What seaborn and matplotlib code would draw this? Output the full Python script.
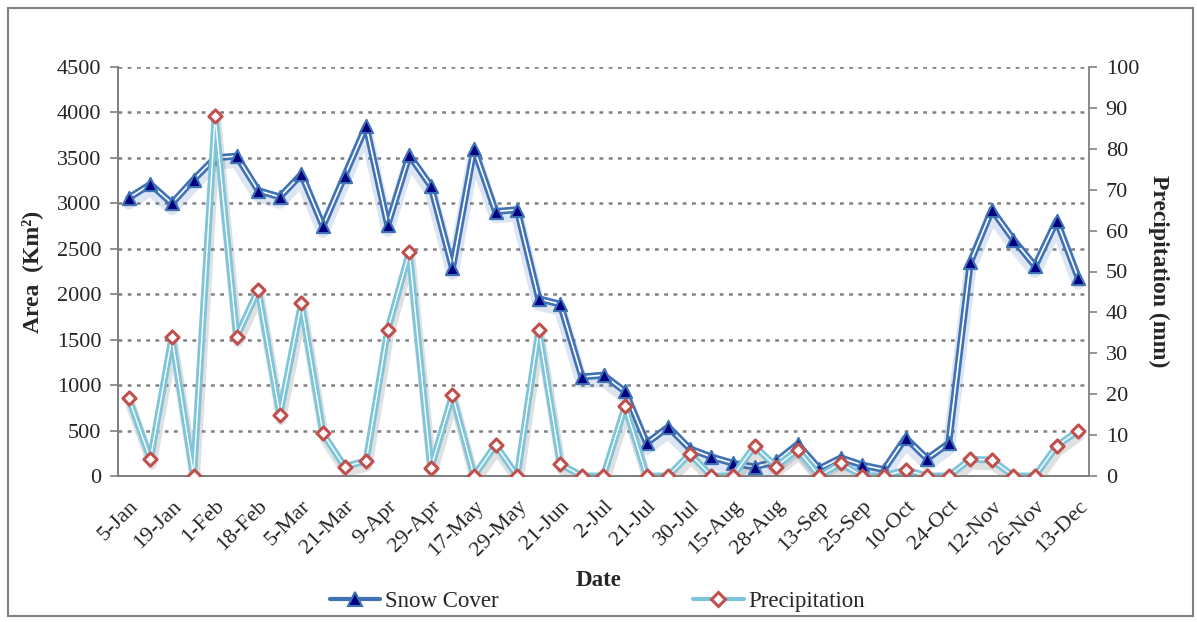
import matplotlib
matplotlib.use('Agg')
import matplotlib.pyplot as plt
import matplotlib.patheffects as pe
from matplotlib.lines import Line2D
from matplotlib.patches import Rectangle
import numpy as np
import pandas as pd
import seaborn as sns

# labels shown on every second date
tick_labels = ['5-Jan', '19-Jan', '1-Feb', '18-Feb', '5-Mar', '21-Mar', '9-Apr', '29-Apr',
               '17-May', '29-May', '21-Jun', '2-Jul', '21-Jul', '30-Jul', '15-Aug', '28-Aug',
               '13-Sep', '25-Sep', '10-Oct', '24-Oct', '12-Nov', '26-Nov', '13-Dec']

snow_cover = [3060, 3210, 3000, 3260, 3500, 3520, 3140, 3070, 3320, 2750, 3300, 3850,
              2760, 3530, 3190, 2290, 3600, 2910, 2930, 1950, 1890, 1090, 1110, 930,
              360, 540, 300, 210, 140, 100, 160, 350, 80, 200, 120, 70, 420, 190, 360,
              2350, 2930, 2600, 2310, 2810, 2180]

precipitation = [19.0, 4.1, 33.9, 0, 88, 34, 45.5, 15, 42.2, 10.4, 2.3, 3.7, 35.7, 54.7,
                 1.9, 19.8, 0, 7.6, 0, 35.7, 2.9, 0, 0, 17, 0, 0, 5.4, 0, 0, 7.3, 2.3,
                 6.4, 0, 3.1, 0, 0, 1.5, 0, 0, 4.1, 3.9, 0, 0, 7.3, 11.1]

SNOW = '#3F72B5'
SNOW_MK = '#000080'
PREC = '#7EC5DA'
PREC_MK = '#C0504D'
GRID = '#808080'

sns.set_style('white')
plt.rcParams['font.family'] = ['Liberation Serif', 'DejaVu Serif']

df = pd.DataFrame({'pos': np.arange(len(snow_cover)),
                   'snow': snow_cover, 'prec': precipitation})

fig = plt.figure(figsize=(11.97, 6.22), dpi=100)
ax = fig.add_axes([118 / 1197, 1 - 476 / 622, (1089 - 118) / 1197, (476 - 67) / 622])
ax2 = ax.twinx()

# snow cover: blue double line with a soft glow
sns.lineplot(data=df, x='pos', y='snow', ax=ax, color='white', lw=1.2, sort=False,
             path_effects=[pe.SimpleLineShadow(offset=(0, -4), shadow_color=SNOW, alpha=0.18, linewidth=9),
                           pe.Stroke(linewidth=5, foreground=SNOW), pe.Normal()])
sns.scatterplot(data=df, x='pos', y='snow', ax=ax, marker='^', s=90, color=SNOW_MK,
                edgecolor=SNOW, linewidth=1.5, zorder=4)

# precipitation: light cyan double line with diamonds
sns.lineplot(data=df, x='pos', y='prec', ax=ax2, color='white', lw=1.0, sort=False,
             path_effects=[pe.SimpleLineShadow(offset=(1, -4), shadow_color='#555555', alpha=0.18, linewidth=7),
                           pe.Stroke(linewidth=5, foreground=PREC), pe.Normal()])
sns.scatterplot(data=df, x='pos', y='prec', ax=ax2, marker='D', s=45, color='white',
                edgecolor=PREC_MK, linewidth=2.2, zorder=5)

ax.set_xlim(-0.5, len(snow_cover) - 0.5)
ax.set_ylim(0, 4500)
ax2.set_ylim(0, 100)
ax.set_yticks(np.arange(0, 4501, 500))
ax2.set_yticks(np.arange(0, 101, 10))

ax.set_xticks(np.arange(0, len(snow_cover), 2))
ax.set_xticklabels(tick_labels, rotation=45, ha='right', rotation_mode='anchor', fontsize=16)
ax.set_xticks(np.arange(-0.5, len(snow_cover), 1), minor=True)
ax.tick_params(axis='x', which='major', length=0, pad=15)
ax.tick_params(axis='x', which='minor', length=6, width=1.2, color=GRID, direction='out')
ax.tick_params(axis='y', length=6, width=1.2, color=GRID, direction='out', labelsize=16, pad=6)
ax2.tick_params(axis='y', length=6, width=1.2, color=GRID, direction='out', labelsize=16, pad=6)

ax.yaxis.grid(True, linestyle=(0, (1.5, 2.2)), color=GRID, lw=1.8)
ax.xaxis.grid(False)
ax2.grid(False)

for a in (ax, ax2):
    for s in a.spines.values():
        s.set_color(GRID)
        s.set_linewidth(1.3)
    a.spines['top'].set_visible(False)
ax.spines['right'].set_visible(False)

ax.set_xlabel('')
ax.set_ylabel('Area  (Km²)', fontsize=17, fontweight='bold', labelpad=10)
ax2.set_ylabel('Precipitation (mm)', fontsize=17, fontweight='bold', rotation=270, labelpad=22)
fig.text(0.5, 1 - 580 / 622, 'Date', ha='center', va='center', fontsize=16.5, fontweight='bold')

handles = [
    Line2D([], [], color=SNOW, lw=3, marker='^', ms=10, mfc=SNOW_MK, mec=SNOW, mew=1.5),
    Line2D([], [], color=PREC, lw=3, marker='D', ms=7, mfc='white', mec=PREC_MK, mew=2.2),
]
fig.legend(handles, ['Snow Cover', 'Precipitation'], loc='center', ncol=2,
           bbox_to_anchor=(0.499, 1 - 601 / 622), frameon=False, fontsize=16.5,
           columnspacing=8.5, handlelength=2.2, handletextpad=0.2)

fig.patches.append(Rectangle((8 / 1197, 6 / 622), 1185 / 1197, 608 / 622, transform=fig.transFigure,
                             fill=False, edgecolor=GRID, lw=1.5))

fig.savefig('out.png', dpi=100)
